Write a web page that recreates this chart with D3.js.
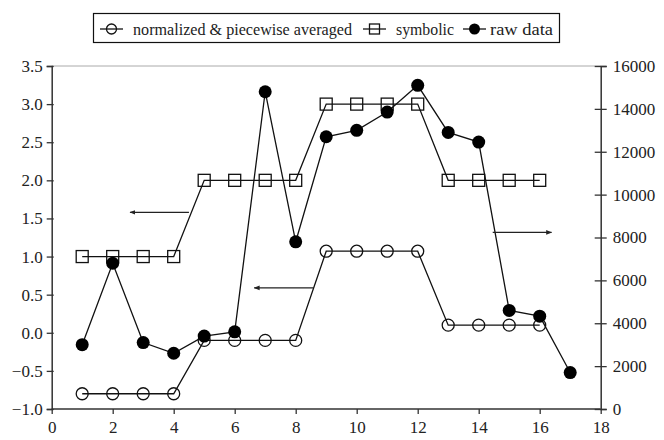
<!DOCTYPE html>
<html>
<head>
<meta charset="utf-8">
<script src="https://cdn.jsdelivr.net/npm/d3@7"></script>
<style>
  body { margin: 0; background: #fff; }
  svg text { font-family: "Liberation Serif", "Times New Roman", "DejaVu Serif", serif; fill: #222; }
</style>
</head>
<body>
<div id="chart"></div>
<script>
// series values, x = 1..17
const xs = [1, 2, 3, 4, 5, 6, 7, 8, 9, 10, 11, 12, 13, 14, 15, 16, 17]
const normalized = [-0.8, -0.8, -0.8, -0.8, -0.1, -0.1, -0.1, -0.1, 1.07, 1.07, 1.07, 1.07, 0.1, 0.1, 0.1, 0.1]
const symbolic = [1, 1, 1, 1, 2, 2, 2, 2, 3, 3, 3, 3, 2, 2, 2, 2]
const rawData = [3000, 6800, 3100, 2600, 3400, 3600, 14800, 7800, 12700, 13000, 13850, 15100, 12900, 12450, 4600, 4330, 1700]

const xTicks = [0, 2, 4, 6, 8, 10, 12, 14, 16, 18]
const yLeftTicks = [-1.0, -0.5, 0.0, 0.5, 1.0, 1.5, 2.0, 2.5, 3.0, 3.5]
const yRightTicks = [0, 2000, 4000, 6000, 8000, 10000, 12000, 14000, 16000]

// arrows pointing to the axis each series belongs to
const arrows = [
  {x0: 2.57, x1: 4.5, v: 1.58, axis: 'left', head: 'start'},
  {x0: 6.64, x1: 8.58, v: 0.59, axis: 'left', head: 'start'},
  {x0: 14.46, x1: 16.39, v: 8235, axis: 'right', head: 'end'}
]

const legendItems = ['normalized & piecewise averaged', 'symbolic', 'raw data']

const width = 664, height = 440
const margin = {top: 66, right: 63.3, bottom: 31, left: 51.7}

const svg = d3.select('#chart').append('svg')
  .attr('width', width)
  .attr('height', height)

const xScale = d3.scaleLinear().domain([0, 18]).range([margin.left, width - margin.right])
const yLeft = d3.scaleLinear().domain([-1, 3.5]).range([height - margin.bottom, margin.top])
const yRight = d3.scaleLinear().domain([0, 16000]).range([height - margin.bottom, margin.top])

svg.append('defs').append('marker')
  .attr('id', 'head')
  .attr('viewBox', '0 0 10 10')
  .attr('refX', 9).attr('refY', 5)
  .attr('markerWidth', 6).attr('markerHeight', 6)
  .attr('markerUnits', 'userSpaceOnUse')
  .attr('orient', 'auto-start-reverse')
  .append('path')
  .attr('d', 'M0,1L10,5L0,9Z')
  .attr('fill', '#222')

// top border
svg.append('line')
  .attr('x1', xScale(0)).attr('x2', xScale(18))
  .attr('y1', yLeft(3.5)).attr('y2', yLeft(3.5))
  .attr('stroke', '#aaa').attr('stroke-width', 1)

// axes
const xAxis = svg.append('g')
  .attr('transform', `translate(0,${yLeft(-1)})`)
  .call(d3.axisBottom(xScale).tickValues(xTicks).tickSize(5).tickPadding(7).tickFormat(d3.format('d')))
const leftAxis = svg.append('g')
  .attr('transform', `translate(${xScale(0)},0)`)
  .call(d3.axisLeft(yLeft).tickValues(yLeftTicks).tickSize(5).tickPadding(4).tickFormat(d3.format('.1f')))
leftAxis.selectAll('.tick line').attr('x2', -5).attr('x1', 2)
const rightAxis = svg.append('g')
  .attr('transform', `translate(${xScale(18)},0)`)
  .call(d3.axisRight(yRight).tickValues(yRightTicks).tickSize(6).tickPadding(6).tickFormat(d3.format('d')))
rightAxis.selectAll('.tick line').attr('x1', -6)

svg.selectAll('.domain').attr('stroke', '#333').attr('stroke-width', 1.5)
svg.selectAll('.tick line').attr('stroke', '#333').attr('stroke-width', 1.3)
svg.selectAll('.tick text').attr('font-size', 17).attr('fill', '#222')
leftAxis.attr('font-family', null)
xAxis.attr('font-family', null)
rightAxis.attr('font-family', null)
xAxis.selectAll('.domain').attr('d', `M${xScale(0)},0H${xScale(18)}`)

// series lines
const lineL = d3.line().x((d, i) => xScale(xs[i])).y(d => yLeft(d))
const lineR = d3.line().x((d, i) => xScale(xs[i])).y(d => yRight(d))

svg.append('path').datum(normalized).attr('d', lineL)
  .attr('fill', 'none').attr('stroke', '#111').attr('stroke-width', 1.3)
svg.append('path').datum(symbolic).attr('d', lineL)
  .attr('fill', 'none').attr('stroke', '#111').attr('stroke-width', 1.3)
svg.append('path').datum(rawData).attr('d', lineR)
  .attr('fill', 'none').attr('stroke', '#111').attr('stroke-width', 1.3)

svg.append('g').selectAll('circle')
  .data(normalized).enter().append('circle')
  .attr('cx', (d, i) => xScale(xs[i]))
  .attr('cy', d => yLeft(d))
  .attr('r', 6)
  .attr('fill', 'none').attr('stroke', '#111').attr('stroke-width', 1.3)

svg.append('g').selectAll('rect')
  .data(symbolic).enter().append('rect')
  .attr('x', (d, i) => xScale(xs[i]) - 6)
  .attr('y', d => yLeft(d) - 6)
  .attr('width', 12).attr('height', 12)
  .attr('fill', 'none').attr('stroke', '#111').attr('stroke-width', 1.3)

svg.append('g').selectAll('circle')
  .data(rawData).enter().append('circle')
  .attr('cx', (d, i) => xScale(xs[i]))
  .attr('cy', d => yRight(d))
  .attr('r', 6.5)
  .attr('fill', '#000')

// arrows
svg.append('g').selectAll('line')
  .data(arrows).enter().append('line')
  .attr('x1', d => xScale(d.x0)).attr('x2', d => xScale(d.x1))
  .attr('y1', d => (d.axis == 'left' ? yLeft : yRight)(d.v))
  .attr('y2', d => (d.axis == 'left' ? yLeft : yRight)(d.v))
  .attr('stroke', '#222').attr('stroke-width', 1.3)
  .attr('marker-start', d => d.head == 'start' ? 'url(#head)' : null)
  .attr('marker-end', d => d.head == 'end' ? 'url(#head)' : null)

// legend
const legend = svg.append('g')
legend.append('rect')
  .attr('x', 93.5).attr('y', 13.5).attr('width', 466).attr('height', 29)
  .attr('fill', '#fff').attr('stroke', '#111').attr('stroke-width', 1.2)
const legendX = [100, 363, 463]
const legendW = [219, 58, 63]
const legendGap = [33, 33, 27]
const legendY = 29
const item = legend.selectAll('.item')
  .data(legendItems).enter().append('g')
  .attr('transform', (d, i) => `translate(${legendX[i]},${legendY})`)
item.append('line')
  .attr('x1', 0).attr('x2', 23).attr('y1', 0).attr('y2', 0)
  .attr('stroke', '#111').attr('stroke-width', 1.3)
item.filter((d, i) => i == 0).append('circle')
  .attr('cx', 11.5).attr('r', 5).attr('fill', 'none').attr('stroke', '#111').attr('stroke-width', 1.3)
item.filter((d, i) => i == 1).append('rect')
  .attr('x', 6.5).attr('y', -5).attr('width', 10).attr('height', 10)
  .attr('fill', 'none').attr('stroke', '#111').attr('stroke-width', 1.3)
item.filter((d, i) => i == 2).append('circle')
  .attr('cx', 11.5).attr('r', 5.5).attr('fill', '#000')
item.append('text')
  .attr('x', (d, i) => legendGap[i]).attr('y', 5.5)
  .attr('font-size', 16)
  .attr('textLength', (d, i) => legendW[i])
  .attr('lengthAdjust', 'spacingAndGlyphs')
  .text(d => d)
</script>
</body>
</html>
